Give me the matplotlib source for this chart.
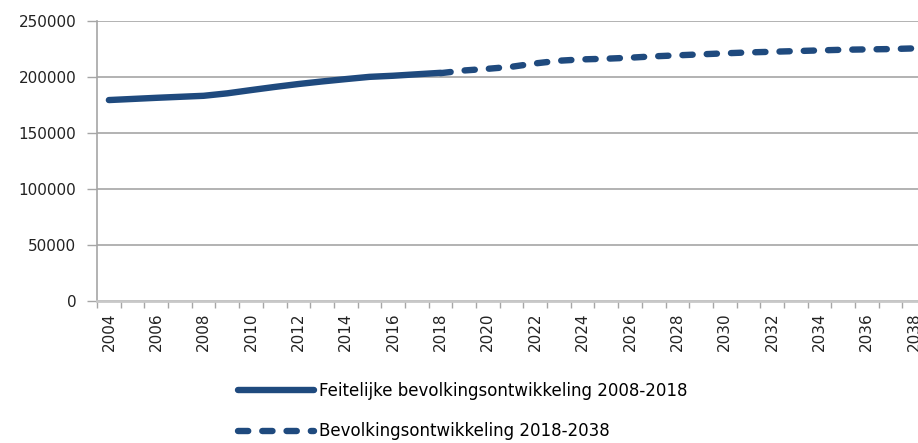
import matplotlib
matplotlib.use("Agg")
import matplotlib.pyplot as plt
import numpy as np

years = list(range(2004, 2039))
hist_years = list(range(2004, 2019))
hist_values = [179300, 180300, 181300, 182200, 183100, 185300, 188200, 191000,
               193600, 195900, 198000, 200000, 201000, 202300, 203600]
proj_years = list(range(2018, 2039))
proj_values = [203300, 205700, 207200, 209000, 212000, 214400, 215600, 216200,
               217100, 218300, 219200, 220100, 221000, 221800, 222400, 223000,
               223600, 224200, 224500, 224800, 225400]
tick_labels = [str(y) for y in years[::2]]
label_hist = "Feitelijke bevolkingsontwikkeling 2008-2018"
label_proj = "Bevolkingsontwikkeling 2018-2038"

color = "#1F4A7E"
grid_c = "#A6A6A6"

fig = plt.figure(figsize=(9.18, 4.43), dpi=100)
ax = fig.add_axes([0.1057, 0.3205, 0.9031, 0.6325])

xh = [years.index(y) for y in hist_years]
xp = [years.index(y) for y in proj_years]
l1, = ax.plot(xh, hist_values, color=color, lw=4.6, solid_capstyle="round",
              solid_joinstyle="round", label=label_hist, zorder=3)
l2, = ax.plot(xp, proj_values, color=color, lw=4.6, dashes=(1.6, 2.2),
              dash_capstyle="round", label=label_proj, zorder=3)

ax.set_xlim(-0.5, len(years) - 0.5)
ax.set_ylim(0, 250000)
ax.set_yticks(np.arange(0, 250001, 50000))
ax.set_yticklabels([str(v) for v in range(0, 250001, 50000)],
                   fontsize=11, family="DejaVu Sans", color="#222222")
ax.set_xticks(list(range(0, len(years), 2)))
ax.set_xticklabels(tick_labels, rotation=90, fontsize=11,
                   family="DejaVu Sans", color="#222222")
ax.set_xticks(np.arange(-0.5, len(years), 1), minor=True)
ax.tick_params(axis="x", which="major", length=0, pad=8)
ax.tick_params(axis="x", which="minor", length=5, color=grid_c, width=1)
ax.tick_params(axis="y", length=7, color=grid_c, width=1, pad=8)

ax.grid(axis="y", color=grid_c, lw=1.2)
ax.set_axisbelow(True)
for s in ["top", "right"]:
    ax.spines[s].set_visible(False)
ax.spines["left"].set_color(grid_c)
ax.spines["left"].set_linewidth(1.2)
ax.spines["bottom"].set_color("#C8C8C8")
ax.spines["bottom"].set_linewidth(2)

leg = fig.legend(handles=[l1, l2], loc="upper left", bbox_to_anchor=(0.259, 0.137),
                 frameon=False, handlelength=4.6, handletextpad=0.3,
                 labelspacing=1.33, prop={"family": "DejaVu Sans", "size": 12},
                 borderaxespad=0, borderpad=0)

fig.savefig("out.png", dpi=100)
